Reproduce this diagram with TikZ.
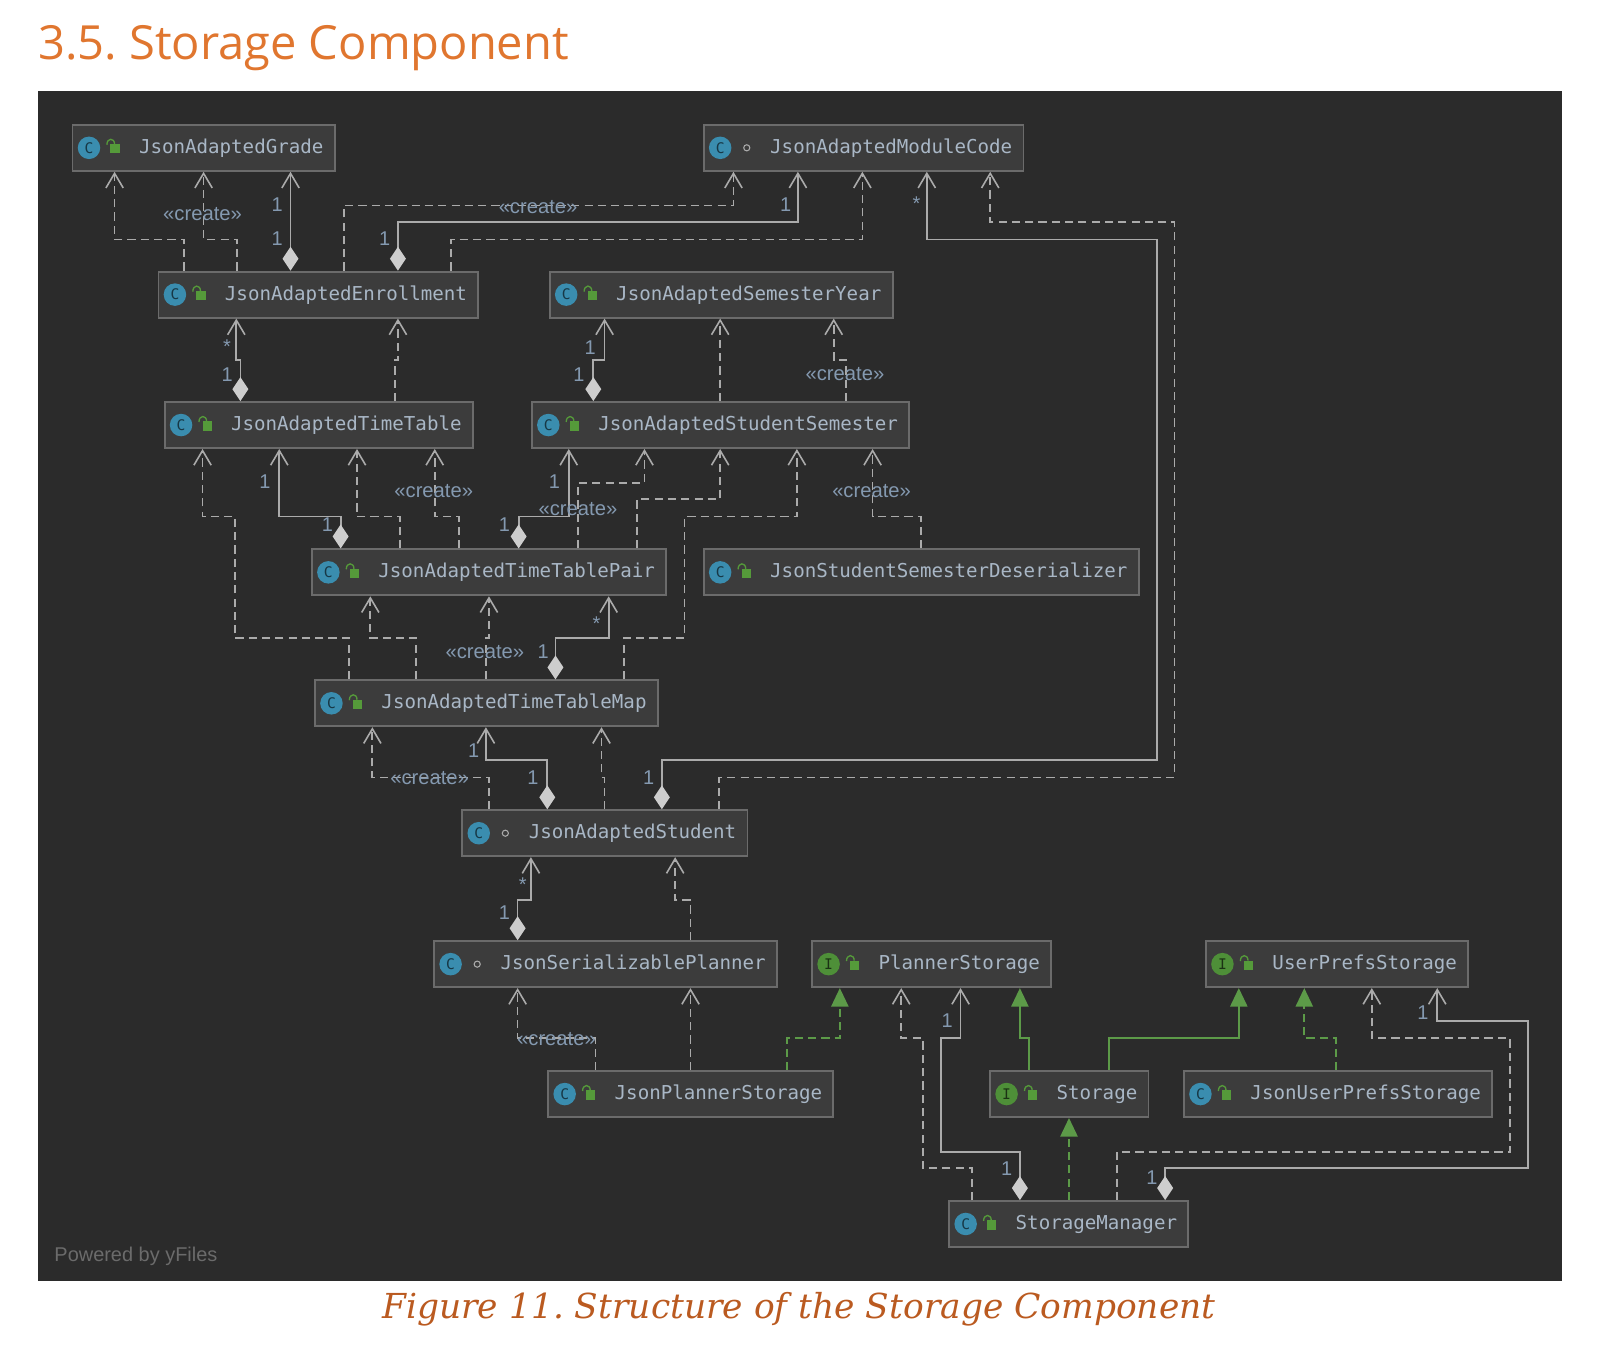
\documentclass[tikz,border=0pt]{standalone}
\usepackage{fontspec}
\usetikzlibrary{arrows.meta}
\newfontfamily\classfont{DejaVu Sans Mono}
\newfontfamily\titlefont{Open Sans}
\newfontfamily\captionfont{DejaVu Serif}
\newfontfamily\tagfont{Liberation Sans}
\newlength\pxu
\setlength\pxu{0.7695pt}
\frenchspacing
\definecolor{panel}{HTML}{2B2B2B}
\definecolor{boxfill}{HTML}{3C3C3C}
\definecolor{boxline}{HTML}{6B6B6B}
\definecolor{nametext}{HTML}{A9B7C6}
\definecolor{tagtext}{HTML}{8499B0}
\definecolor{wire}{HTML}{ABABAB}
\definecolor{realize}{HTML}{5C9A48}
\definecolor{classteal}{HTML}{3A8DAF}
\definecolor{ifacegreen}{HTML}{4E8F38}
\definecolor{lockgreen}{HTML}{559A3A}
\definecolor{headorange}{HTML}{E0762F}
\definecolor{captionorange}{HTML}{BA5A20}
\definecolor{diamondfill}{HTML}{CDCDCD}
\tikzset{
  classbox/.style={draw=boxline, fill=boxfill, line width=1.4pt, anchor=west,
    text=nametext, font=\classfont\fontsize{14.4}{16}\selectfont,
    inner xsep=11*\pxu, inner ysep=0pt, minimum height=45*\pxu,
    text height=13*\pxu, text depth=2*\pxu,
    execute at begin node={\hspace*{54\pxu}}},
  classdot/.style={circle, fill=classteal, minimum size=22*\pxu, inner sep=0pt,
    text=black!60!classteal, font=\classfont\fontsize{11}{11}\selectfont},
  ifacedot/.style={classdot, fill=ifacegreen, text=black!65!ifacegreen},
  plainmark/.style={circle, draw=wire, line width=0.8pt, minimum size=6*\pxu, inner sep=0pt},
  lockmark/.pic={
    \fill[lockgreen] (-3,-3.5) rectangle (6,5.5);
    \draw[lockgreen, line width=1pt] (1,-3.5) .. controls (1,-10) and (-6.5,-10) .. (-6.5,-3);
  },
  dep/.style={draw=wire, line width=1.3pt, dash pattern=on 8*\pxu off 5*\pxu,
    -{Straight Barb[length=11pt,width=13pt,line width=1.2pt]}},
  assoc/.style={draw=wire, line width=1.3pt,
    {Diamond[length=18pt,width=12pt,fill=diamondfill,color=diamondfill]}-{Straight Barb[length=11pt,width=13pt,line width=1.2pt]}},
  impl/.style={draw=realize, line width=1.3pt, -{Triangle[length=14pt,width=13pt,fill=realize]}},
  impldash/.style={impl, dash pattern=on 8*\pxu off 5*\pxu},
  createtag/.style={text=tagtext, font=\tagfont\fontsize{15.2}{17}\selectfont, inner sep=0pt},
  multtag/.style={text=tagtext, font=\tagfont\fontsize{15}{17}\selectfont, inner sep=0pt},
}
\begin{document}
\begin{tikzpicture}[x=\pxu,y=-\pxu]
\useasboundingbox (0,0) rectangle (1568,1325.6);

% heading and the dark panel
\node[anchor=base west, inner sep=0pt, text=headorange] (title) at (37,58)
  {\titlefont\fontsize{35.4}{40}\selectfont 3.5. Storage Component};
\fill[panel] (37,89) rectangle (1527,1252);
\node[anchor=base, inner sep=0pt, text=captionorange] (caption) at (781,1289)
  {\captionfont\itshape\fontsize{25.9}{30}\selectfont Figure 11. Structure of the Storage Component};
\node[anchor=base west, inner sep=0pt, text=white!30!panel] (powered) at (53,1233)
  {\tagfont\fontsize{15}{17}\selectfont Powered by yFiles};

% class boxes
\node[classbox] (grade) at (70,144.5) {JsonAdaptedGrade};
\node[classbox] (modulecode) at (687,144.5) {JsonAdaptedModuleCode};
\node[classbox] (enrollment) at (154,288) {JsonAdaptedEnrollment};
\node[classbox] (semesteryear) at (536.5,288) {JsonAdaptedSemesterYear};
\node[classbox] (timetable) at (160,415.5) {JsonAdaptedTimeTable};
\node[classbox] (studentsem) at (519,415.5) {JsonAdaptedStudentSemester};
\node[classbox] (pair) at (304,559.5) {JsonAdaptedTimeTablePair};
\node[classbox] (deserializer) at (687,559.5) {JsonStudentSemesterDeserializer};
\node[classbox] (ttmap) at (307,687.5) {JsonAdaptedTimeTableMap};
\node[classbox] (student) at (451,814.5) {JsonAdaptedStudent};
\node[classbox] (planner) at (423.5,942.5) {JsonSerializablePlanner};
\node[classbox] (plannerstore) at (793,942.5) {PlannerStorage};
\node[classbox] (prefsstore) at (1178,942.5) {UserPrefsStorage};
\node[classbox] (jsonplanner) at (535,1069.5) {JsonPlannerStorage};
\node[classbox] (storage) at (967,1069.5) {Storage};
\node[classbox] (jsonprefs) at (1156.5,1069.5) {JsonUserPrefsStorage};
\node[classbox] (manager) at (927,1196.5) {StorageManager};

% icons
\foreach \n in {grade,modulecode,enrollment,semesteryear,timetable,studentsem,pair,deserializer,ttmap,student,planner,jsonplanner,jsonprefs,manager}
  \node[classdot] (\n-dot) at ([xshift=17*\pxu]\n.west) {C};
\foreach \n in {plannerstore,prefsstore,storage}
  \node[ifacedot] (\n-dot) at ([xshift=17*\pxu]\n.west) {I};
\foreach \n in {grade,enrollment,semesteryear,timetable,studentsem,pair,deserializer,ttmap,jsonplanner,jsonprefs,manager,plannerstore,prefsstore,storage}
  \pic at ([xshift=41*\pxu]\n.west) {lockmark};
\foreach \n in {modulecode,student,planner}
  \node[plainmark] (\n-mark) at ([xshift=43*\pxu]\n.west) {};

% enrollment up to grade and module code
\draw[dep] (180,0 |- enrollment.north) -- (180,234) -| (112,0 |- grade.south);
\draw[dep] (232,0 |- enrollment.north) -- (232,234) -| (199,0 |- grade.south);
\draw[assoc] (284,0 |- enrollment.north) -- (284,0 |- grade.south);
\draw[dep] (336,0 |- enrollment.north) -- (336,201) -| (717,0 |- modulecode.south);
\draw[assoc] (389,0 |- enrollment.north) -- (389,217) -| (780,0 |- modulecode.south);
\draw[dep] (441,0 |- enrollment.north) -- (441,234) -| (843,0 |- modulecode.south);

% student up to module code, the long way round
\draw[assoc] (647,0 |- student.north) -- (647,743) -- (1131,743) -- (1131,234) -| (906,0 |- modulecode.south);
\draw[dep] (703,0 |- student.north) -- (703,760) -- (1148,760) -- (1148,217) -| (968,0 |- modulecode.south);

% timetable and student semester
\draw[assoc] (235,0 |- timetable.north) -- (235,352) -| (231,0 |- enrollment.south);
\draw[dep] (386,0 |- timetable.north) -- (386,352) -| (389,0 |- enrollment.south);
\draw[assoc] (580,0 |- studentsem.north) -- (580,352) -| (591,0 |- semesteryear.south);
\draw[dep] (704,0 |- studentsem.north) -- (704,0 |- semesteryear.south);
\draw[dep] (827,0 |- studentsem.north) -- (827,352) -| (815,0 |- semesteryear.south);

% pair up to timetable
\draw[assoc] (333,0 |- pair.north) -- (333,505) -| (273,0 |- timetable.south);
\draw[dep] (391,0 |- pair.north) -- (391,505) -| (349,0 |- timetable.south);
\draw[dep] (449,0 |- pair.north) -- (449,505) -| (425,0 |- timetable.south);

% pair up to student semester
\draw[assoc] (507,0 |- pair.north) -- (507,505) -| (556,0 |- studentsem.south);
\draw[dep] (565,0 |- pair.north) -- (565,472) -| (630,0 |- studentsem.south);
\draw[dep] (623,0 |- pair.north) -- (623,488) -| (704,0 |- studentsem.south);
\draw[dep] (900,0 |- deserializer.north) -- (900,505) -| (853,0 |- studentsem.south);

% map up to pair and further
\draw[dep] (341,0 |- ttmap.north) -- (341,624) -- (230,624) -- (230,505) -| (198,0 |- timetable.south);
\draw[dep] (407,0 |- ttmap.north) -- (407,624) -| (362,0 |- pair.south);
\draw[dep] (475,0 |- ttmap.north) -- (475,624) -| (478,0 |- pair.south);
\draw[assoc] (543,0 |- ttmap.north) -- (543,624) -| (595,0 |- pair.south);
\draw[dep] (610,0 |- ttmap.north) -- (610,624) -- (669,624) -- (669,505) -| (779,0 |- studentsem.south);

% student up to map
\draw[dep] (478,0 |- student.north) -- (478,760) -| (364,0 |- ttmap.south);
\draw[assoc] (535,0 |- student.north) -- (535,743) -| (475,0 |- ttmap.south);
\draw[dep] (591,0 |- student.north) -- (591,760) -| (588,0 |- ttmap.south);

% planner and its storage
\draw[assoc] (506,0 |- planner.north) -- (506,880) -| (519,0 |- student.south);
\draw[dep] (675,0 |- planner.north) -- (675,880) -| (660,0 |- student.south);
\draw[dep] (582,0 |- jsonplanner.north) -- (582,1015) -| (506,0 |- planner.south);
\draw[dep] (675,0 |- jsonplanner.north) -- (675,0 |- planner.south);

% realizations
\draw[impldash] (769,0 |- jsonplanner.north) -- (769,1015) -| (821,0 |- plannerstore.south);
\draw[impl] (1006,0 |- storage.north) -- (1006,1015) -| (997,0 |- plannerstore.south);
\draw[impl] (1084,0 |- storage.north) -- (1084,1015) -| (1211,0 |- prefsstore.south);
\draw[impldash] (1306,0 |- jsonprefs.north) -- (1306,1015) -| (1275,0 |- prefsstore.south);
\draw[impldash] (1045,0 |- manager.north) -- (1045,0 |- storage.south);

% manager up to the storages
\draw[dep] (950,0 |- manager.north) -- (950,1142) -- (902,1142) -- (902,1015) -| (881,0 |- plannerstore.south);
\draw[assoc] (997,0 |- manager.north) -- (997,1126) -- (920,1126) -- (920,1015) -| (939,0 |- plannerstore.south);
\draw[dep] (1092,0 |- manager.north) -- (1092,1126) -- (1476,1126) -- (1476,1015) -| (1341,0 |- prefsstore.south);
\draw[assoc] (1139,0 |- manager.north) -- (1139,1142) -- (1494,1142) -- (1494,998) -| (1405,0 |- prefsstore.south);

% stereotype labels
\node[createtag] (create1) at (198,209) {«create»};
\node[createtag] (create2) at (526,202) {«create»};
\node[createtag] (create3) at (826,366) {«create»};
\node[createtag] (create4) at (424,480) {«create»};
\node[createtag] (create5) at (852,480) {«create»};
\node[createtag] (create6) at (565,498) {«create»};
\node[createtag] (create7) at (474,637) {«create»};
\node[createtag] (create8) at (420,761) {«create»};
\node[createtag] (create9) at (544,1016) {«create»};

% multiplicities
\node[multtag] (m1) at (271,200) {1};
\node[multtag] (m2) at (271,233) {1};
\node[multtag] (m3) at (376,233) {1};
\node[multtag] (m4) at (768,200) {1};
\node[multtag] (m5) at (896,199) {*};
\node[multtag] (m6) at (222,339) {*};
\node[multtag] (m7) at (222,366) {1};
\node[multtag] (m8) at (577,340) {1};
\node[multtag] (m9) at (566,366) {1};
\node[multtag] (m10) at (259,471) {1};
\node[multtag] (m11) at (320,513) {1};
\node[multtag] (m12) at (542,471) {1};
\node[multtag] (m13) at (493,513) {1};
\node[multtag] (m14) at (583,610) {*};
\node[multtag] (m15) at (531,637) {1};
\node[multtag] (m16) at (463,734) {1};
\node[multtag] (m17) at (521,760) {1};
\node[multtag] (m18) at (634,760) {1};
\node[multtag] (m19) at (511,865) {*};
\node[multtag] (m20) at (493,892) {1};
\node[multtag] (m21) at (926,998) {1};
\node[multtag] (m22) at (984,1142) {1};
\node[multtag] (m23) at (1126,1151) {1};
\node[multtag] (m24) at (1391,990) {1};
\end{tikzpicture}
\end{document}
